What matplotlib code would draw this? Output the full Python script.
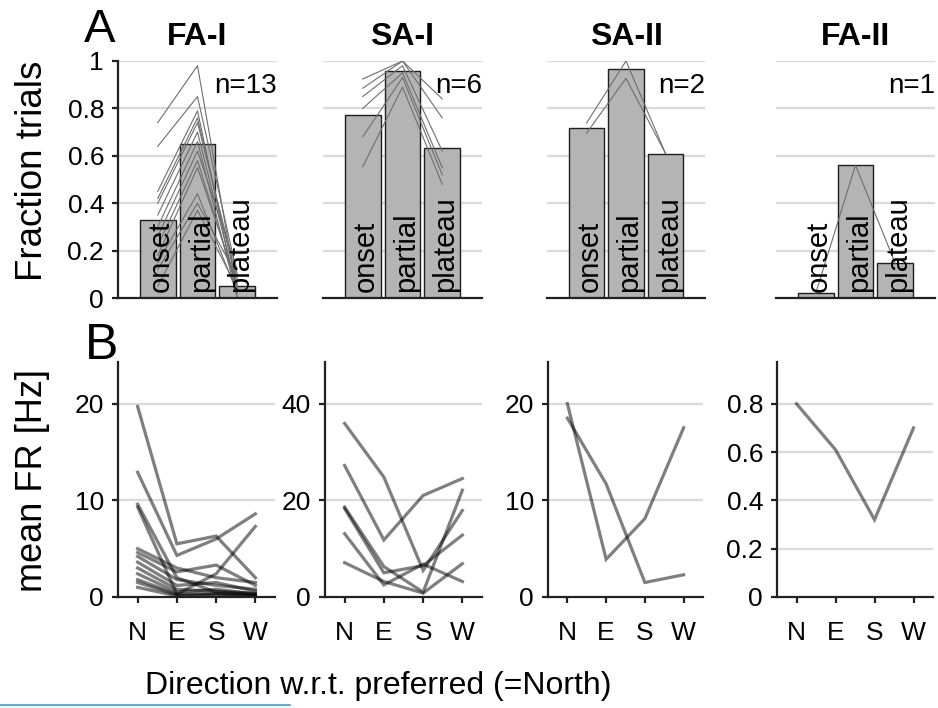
import matplotlib
matplotlib.use("Agg")
import matplotlib.pyplot as plt
from matplotlib.lines import Line2D
import numpy as np

plt.rcParams['font.family'] = ['Liberation Sans', 'DejaVu Sans']

# ---------------- data ----------------
afferent_types = ["FA-I", "SA-I", "SA-II", "FA-II"]
phases = ["onset", "partial", "plateau"]
n_units = [13, 6, 2, 1]

# mean fraction of trials per phase
bar_fa1 = [0.33, 0.65, 0.05]
bar_sa1 = [0.772, 0.958, 0.632]
bar_sa2 = [0.716, 0.965, 0.608]
bar_fa2 = [0.02, 0.561, 0.146]

# per-unit fraction of trials (onset, partial, plateau)
units_fa1 = [
    [0.74, 0.98, 0.02],
    [0.64, 0.85, 0.10],
    [0.45, 0.79, 0.00],
    [0.42, 0.76, 0.05],
    [0.40, 0.74, 0.08],
    [0.35, 0.70, 0.03],
    [0.30, 0.66, 0.00],
    [0.26, 0.62, 0.12],
    [0.22, 0.58, 0.04],
    [0.18, 0.55, 0.06],
    [0.15, 0.44, 0.02],
    [0.12, 0.40, 0.09],
    [0.05, 0.37, 0.04],
]
units_sa1 = [
    [0.924, 1.00, 0.84],
    [0.885, 1.00, 0.76],
    [0.850, 0.98, 0.62],
    [0.800, 0.95, 0.55],
    [0.680, 0.93, 0.52],
    [0.554, 0.89, 0.48],
]
units_sa2 = [
    [0.738, 1.000, 0.61],
    [0.695, 0.927, 0.61],
]
units_fa2 = [
    [0.02, 0.561, 0.146],
]

# mean firing rate per direction (N, E, S, W), one row per unit
directions = ["N", "E", "S", "W"]
fr_fa1 = [
    [19.7, 5.5, 6.3, 2.0],
    [12.9, 4.3, 6.0, 8.6],
    [9.3, 0.3, 2.4, 7.3],
    [9.6, 2.0, 0.5, 0.3],
    [5.0, 3.0, 2.0, 1.5],
    [4.6, 2.6, 3.3, 1.2],
    [4.2, 1.8, 1.2, 0.8],
    [3.6, 1.2, 1.5, 0.6],
    [3.0, 0.8, 0.6, 0.4],
    [2.4, 0.5, 0.8, 0.3],
    [1.8, 0.3, 0.4, 0.2],
    [1.5, 0.2, 0.2, 0.1],
    [1.0, 0.1, 0.3, 0.1],
]
fr_sa1 = [
    [35.9, 24.8, 5.5, 17.9],
    [27.2, 11.8, 21.0, 24.5],
    [18.6, 6.3, 1.0, 22.1],
    [18.3, 5.0, 6.5, 12.8],
    [13.1, 2.5, 6.8, 3.2],
    [7.1, 3.2, 0.8, 6.9],
]
fr_sa2 = [
    [20.0, 3.9, 8.1, 17.5],
    [18.5, 11.7, 1.5, 2.3],
]
fr_fa2 = [
    [0.80, 0.61, 0.32, 0.70],
]

bars = [bar_fa1, bar_sa1, bar_sa2, bar_fa2]
units = [units_fa1, units_sa1, units_sa2, units_fa2]
rates = [fr_fa1, fr_sa1, fr_sa2, fr_fa2]

frac_ticks = [0, 0.2, 0.4, 0.6, 0.8, 1.0]
frac_ticklabels = ["0", "0.2", "0.4", "0.6", "0.8", "1"]
fr_ticks = [[0, 10, 20], [0, 20, 40], [0, 10, 20], [0, 0.2, 0.4, 0.6, 0.8]]
fr_ticklabels = [["0", "10", "20"], ["0", "20", "40"], ["0", "10", "20"],
                 ["0", "0.2", "0.4", "0.6", "0.8"]]
fr_ylim = [24.3, 48.6, 24.3, 0.973]

# ---------------- layout ----------------
W, H = 938, 708
fig = plt.figure(figsize=(W / 100, H / 100), dpi=100)


def px_axes(x0, x1, ytop, ybot):
    return fig.add_axes([x0 / W, 1 - ybot / H, (x1 - x0) / W, (ybot - ytop) / H])


top_x = [(118, 277), (323, 482), (547, 705), (776, 935)]
bot_x = [(118, 275), (325, 482), (548, 703), (777, 933)]

GRID = '#dadada'
SPINE = '#222222'
TICK_FS = 19

for i in range(4):
    ax = px_axes(*top_x[i], 61, 298)
    x = np.arange(1, 4)
    ax.set_xlim(0, 4)
    ax.set_ylim(0, 1)
    for y in frac_ticks[1:]:
        ax.axhline(y, color=GRID, lw=1.6, zorder=0)
    ax.bar(x, bars[i], width=0.9, color='#b4b4b4', edgecolor='#1e1e1e',
           linewidth=1.0, zorder=2)
    for u in units[i]:
        ax.plot(x, u, color='#6e6e6e', lw=0.8, zorder=3)
    for xi, ph in zip(x, phases):
        ax.text(xi + 0.08, 0.025, ph, rotation=90, ha='center', va='bottom',
                fontsize=21, zorder=4)
    ax.text(1.0, 0.865, f"n={n_units[i]}", transform=ax.transAxes,
            ha='right', va='baseline', fontsize=20)
    ax.set_title(afferent_types[i], fontweight='bold', fontsize=23, pad=11.5)
    for s in ['top', 'right']:
        ax.spines[s].set_visible(False)
    ax.spines['bottom'].set_color(SPINE)
    ax.spines['bottom'].set_linewidth(1.6)
    ax.spines['bottom'].set_zorder(5)
    ax.set_xticks([])
    ax.set_yticks(frac_ticks)
    ax.set_yticklabels(frac_ticklabels)
    if i == 0:
        ax.spines['left'].set_color(SPINE)
        ax.spines['left'].set_linewidth(1.6)
        ax.tick_params(axis='y', direction='out', length=4, width=1.6,
                       color=SPINE, labelsize=TICK_FS, pad=6)
    else:
        ax.spines['left'].set_visible(False)
        ax.tick_params(axis='y', left=False, labelleft=False)

for i in range(4):
    ax = px_axes(*bot_x[i], 362, 597)
    x = np.arange(1, 5)
    ax.set_xlim(0.5, 4.5)
    ax.set_ylim(0, fr_ylim[i])
    for y in fr_ticks[i][1:]:
        ax.axhline(y, color=GRID, lw=1.6, zorder=0)
    for r in rates[i]:
        ax.plot(x, r, color='k', alpha=0.5, lw=2.3, zorder=3,
                solid_joinstyle='miter')
    for s in ['top', 'right']:
        ax.spines[s].set_visible(False)
    for s in ['left', 'bottom']:
        ax.spines[s].set_color(SPINE)
        ax.spines[s].set_linewidth(1.6)
        ax.spines[s].set_zorder(5)
    ax.set_xticks(x)
    ax.set_xticklabels(directions)
    ax.set_yticks(fr_ticks[i])
    ax.set_yticklabels(fr_ticklabels[i])
    ax.tick_params(axis='y', direction='out', length=4, width=1.6,
                   color=SPINE, labelsize=TICK_FS, pad=6)
    ax.tick_params(axis='x', direction='out', length=4, width=1.6,
                   color=SPINE, labelsize=TICK_FS, pad=13)

# panel letters and shared labels
fig.text(84 / W, 1 - 42 / H, "A", fontsize=34, va='baseline', ha='left')
fig.text(85 / W, 1 - 359 / H, "B", fontsize=36, va='baseline', ha='left')
fig.text(33 / W, 1 - 171 / H, "Fraction trials", rotation=90, ha='center',
         va='center', fontsize=26.5)
fig.text(33 / W, 1 - 480 / H, "mean FR [Hz]", rotation=90, ha='center',
         va='center', fontsize=26)
fig.text(378 / W, 1 - 694 / H, "Direction w.r.t. preferred (=North)",
         ha='center', va='baseline', fontsize=23)

# thin blue rule along the lower left edge
fig.add_artist(Line2D([0, 290 / W], [1 - 705 / H, 1 - 705 / H],
                      transform=fig.transFigure, color='#2ea3dc', lw=1.2))

fig.savefig("out.png", dpi=100)
